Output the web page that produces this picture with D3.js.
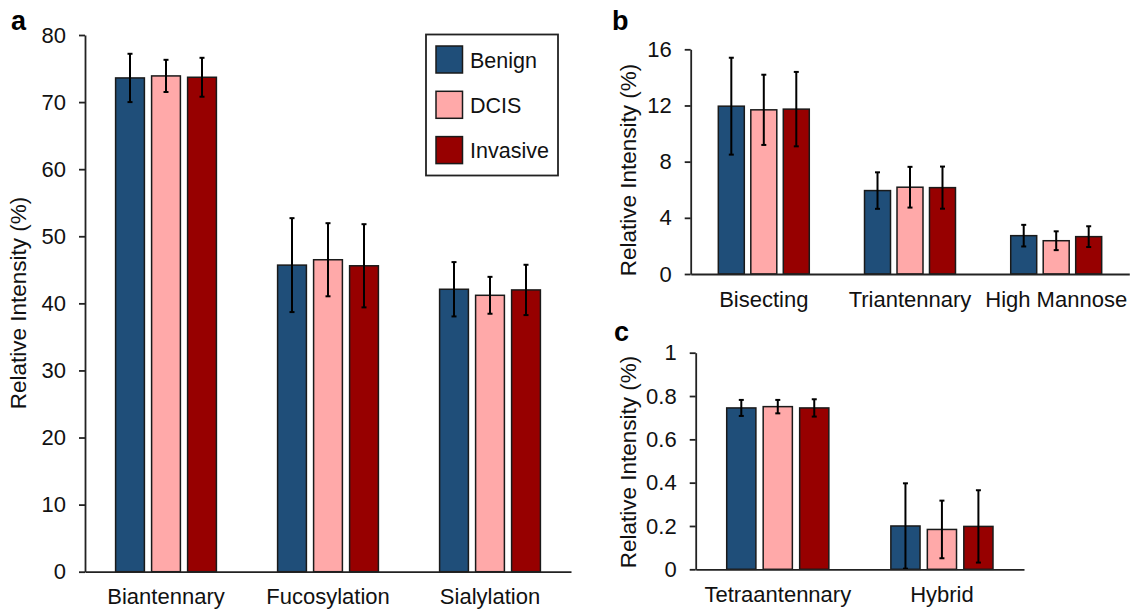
<!DOCTYPE html>
<html>
<head>
<meta charset="utf-8">
<script src="https://cdn.jsdelivr.net/npm/d3@7"></script>
<style>
  body { margin: 0; background: #fff; }
  svg { display: block; font-family: "Liberation Sans", Arial, sans-serif; }
</style>
</head>
<body>
<div id="chart"></div>
<script>
// groups shown in every panel
const series = ["Benign", "DCIS", "Invasive"];
const seriesColors = ["#1f4e79", "#ffa9a9", "#970000"];

// panel a
const catsA = ["Biantennary", "Fucosylation", "Sialylation"];
const meansA = [[73.6, 73.9, 73.7], [45.7, 46.5, 45.6], [42.1, 41.2, 42.0]];
const errsA = [[3.6, 2.4, 2.9], [7.0, 5.45, 6.2], [4.05, 2.75, 3.75]];
const ticksA = [0, 10, 20, 30, 40, 50, 60, 70, 80];

// panel b
const catsB = ["Bisecting", "Triantennary", "High Mannose"];
const meansB = [[11.95, 11.69, 11.74], [5.94, 6.18, 6.15], [2.73, 2.37, 2.66]];
const errsB = [[3.45, 2.5, 2.65], [1.3, 1.45, 1.5], [0.77, 0.67, 0.74]];
const ticksB = [0, 4, 8, 12, 16];

// panel c
const catsC = ["Tetraantennary", "Hybrid"];
const meansC = [[0.745, 0.751, 0.745], [0.2, 0.184, 0.198]];
const errsC = [[0.037, 0.031, 0.04], [0.197, 0.133, 0.167]];
const ticksC = [0, 0.2, 0.4, 0.6, 0.8, 1];

const width = 1142;
const height = 610;
const fontSize = 22;

const svg = d3.select("#chart")
  .append("svg")
  .attr("width", width)
  .attr("height", height);

svg.append("rect")
  .attr("width", width)
  .attr("height", height)
  .attr("fill", "#fff");

function drawPanel(p) {
  const g = svg.append("g");

  const x0 = d3.scaleBand()
    .domain(p.cats)
    .range([p.left, p.right])
    .padding(0);

  // bars take the middle two thirds of each category
  const bw = x0.bandwidth();
  const x1 = d3.scaleBand()
    .domain(series)
    .range([bw / 6, bw * 5 / 6])
    .paddingInner(0.2)
    .paddingOuter(0.1);

  const y = d3.scaleLinear()
    .domain([0, p.ticks[p.ticks.length - 1]])
    .range([p.bottom, p.top]);

  const rows = [];
  p.cats.forEach((c, i) => {
    series.forEach((s, j) => {
      rows.push({ cat: c, s: s, color: seriesColors[j], v: p.means[i][j], e: p.errs[i][j] });
    });
  });

  g.selectAll("rect.bar")
    .data(rows)
    .enter()
    .append("rect")
    .attr("class", "bar")
    .attr("x", d => x0(d.cat) + x1(d.s))
    .attr("width", x1.bandwidth())
    .attr("y", d => y(d.v))
    .attr("height", d => y(0) - y(d.v))
    .attr("fill", d => d.color)
    .attr("stroke", "#1a1a1a")
    .attr("stroke-width", 1.5);

  // error bars
  const cx = d => x0(d.cat) + x1(d.s) + x1.bandwidth() / 2;
  const eb = g.selectAll("g.err")
    .data(rows)
    .enter()
    .append("g")
    .attr("class", "err")
    .attr("stroke", "#000")
    .attr("stroke-width", 2);
  eb.append("line")
    .attr("x1", cx).attr("x2", cx)
    .attr("y1", d => y(d.v + d.e))
    .attr("y2", d => y(Math.max(0, d.v - d.e)));
  eb.append("line")
    .attr("x1", d => cx(d) - 2.5).attr("x2", d => cx(d) + 2.5)
    .attr("y1", d => y(d.v + d.e)).attr("y2", d => y(d.v + d.e));
  eb.append("line")
    .attr("x1", d => cx(d) - 2.5).attr("x2", d => cx(d) + 2.5)
    .attr("y1", d => y(Math.max(0, d.v - d.e))).attr("y2", d => y(Math.max(0, d.v - d.e)));

  const yAxis = d3.axisLeft(y)
    .tickValues(p.ticks)
    .tickFormat(d3.format("~g"))
    .tickSize(6)
    .tickSizeOuter(0)
    .tickPadding(13);

  const gy = g.append("g")
    .attr("transform", `translate(${p.left},0)`)
    .call(yAxis);

  const xAxis = d3.axisBottom(x0)
    .tickSize(0)
    .tickSizeOuter(0);

  const gx = g.append("g")
    .attr("transform", `translate(0,${p.bottom})`)
    .call(xAxis);

  gx.selectAll("text")
    .attr("y", 32.5)
    .attr("dy", 0);

  [gx, gy].forEach(a => {
    a.selectAll("path, line")
      .attr("stroke", "#222")
      .attr("stroke-width", 1.8);
    a.selectAll("text")
      .attr("fill", "#111")
      .style("font-size", fontSize + "px")
      .style("font-family", "'Liberation Sans', Arial, sans-serif");
  });

  g.append("text")
    .attr("transform", `translate(${p.labelX},${p.labelY}) rotate(-90)`)
    .attr("text-anchor", "middle")
    .attr("fill", "#111")
    .style("font-size", "22.5px")
    .text("Relative Intensity (%)");

  g.append("text")
    .attr("x", p.letterX)
    .attr("y", p.letterY)
    .attr("fill", "#000")
    .style("font-size", "27px")
    .style("font-weight", "bold")
    .text(p.letter);
}

drawPanel({
  letter: "a", letterX: 11, letterY: 30,
  cats: catsA, means: meansA, errs: errsA, ticks: ticksA,
  left: 85, right: 571, top: 35, bottom: 571.7,
  labelX: 26, labelY: 303
});

drawPanel({
  letter: "b", letterX: 612, letterY: 30,
  cats: catsB, means: meansB, errs: errsB, ticks: ticksB,
  left: 690.7, right: 1129.3, top: 49.3, bottom: 274,
  labelX: 636, labelY: 170
});

drawPanel({
  letter: "c", letterX: 614, letterY: 341,
  cats: catsC, means: meansC, errs: errsC, ticks: ticksC,
  left: 695.7, right: 1024, top: 352.7, bottom: 569.3,
  labelX: 636, labelY: 462
});

// legend
const legend = svg.append("g");
legend.append("rect")
  .attr("x", 426).attr("y", 34.5)
  .attr("width", 132).attr("height", 141)
  .attr("fill", "#fff")
  .attr("stroke", "#222")
  .attr("stroke-width", 1.8);

const items = legend.selectAll("g.item")
  .data(series)
  .enter()
  .append("g")
  .attr("class", "item")
  .attr("transform", (d, i) => `translate(436,${46 + i * 45.3})`);

items.append("rect")
  .attr("width", 26.5)
  .attr("height", 27)
  .attr("fill", (d, i) => seriesColors[i])
  .attr("stroke", "#1a1a1a")
  .attr("stroke-width", 1.5);

items.append("text")
  .attr("x", 34)
  .attr("y", 21.5)
  .attr("fill", "#111")
  .style("font-size", "21.5px")
  .text(d => d);
</script>
</body>
</html>
